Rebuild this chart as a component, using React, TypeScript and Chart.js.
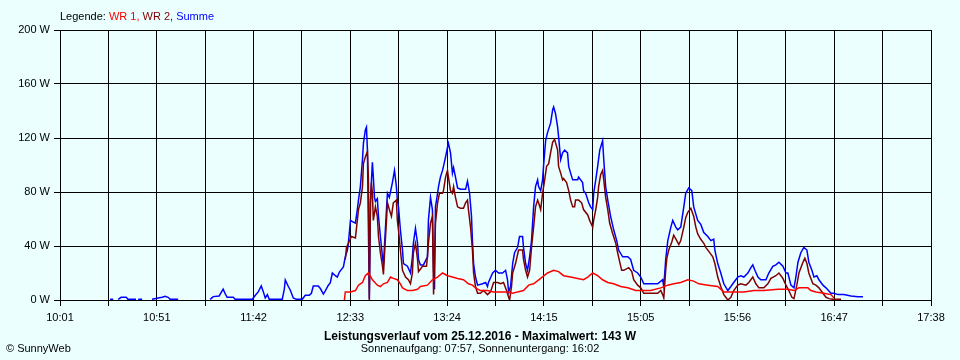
import { useEffect, useRef } from 'react';
import { Chart, registerables } from 'chart.js';

Chart.register(...registerables);

// ---- data ----
const X_LABELS = ['10:01', '10:51', '11:42', '12:33', '13:24', '14:15', '15:05', '15:56', '16:47', '17:38'];
const Y_MAX = 200;
const Y_STEP = 40;
const SERIES_NAMES = ['WR 1', 'WR 2', 'Summe'];
const SERIES_COLORS = ['#FF0000', '#800000', '#0000FF'];
const LEGEND_PREFIX = 'Legende: ';
const TITLE = 'Leistungsverlauf vom 25.12.2016 - Maximalwert: 143 W';
const SUBTITLE = 'Sonnenaufgang: 07:57, Sonnenuntergang: 16:02';
const COPYRIGHT = '© SunnyWeb';

// times in minutes since midnight
const summeTimes = [
  627.3, 628.9, 630, 631.5, 633.1, 635.7, 636.7, 640.9, 641.5, 642.0, 644.1, 646, 649.3, 652.5, 654.6, 656.2, 657.7, 658.8, 663.0, 670,
  679.8, 681.4, 684.5, 686.6, 687.7, 688.7, 691.9, 692.9, 701.9, 703.5, 705.0, 706.6, 707.7, 708.7, 709.8, 710.8, 717.6, 718.7, 719.2, 720.8,
  721.8, 723.4, 725.0, 728.1, 729.7, 731.8, 732.9, 733.9, 736.5, 737.6, 739.2, 740.2, 741.8, 742.8, 743.9, 745.5, 746.5, 747.6, 749.7, 750.7,
  751.8, 752.3, 753.4, 754.4, 756.0, 757.0, 757.6, 758.6, 759.7, 760.2, 761.2, 761.8, 762.3, 762.8, 763.3, 763.9, 764.9, 765.4, 766.0, 766.5,
  767.5, 768.1, 769.1, 770.2, 770.7, 771.2, 772.3, 772.8, 773.8, 775.4, 776.5, 777.5, 778.0, 778.6, 779.6, 780.7, 781.2, 783.3, 784.9, 785.9,
  786.4, 787.5, 788.6, 789.1, 790.1, 791.7, 793.8, 794.3, 795.4, 796.4, 797.0, 797.5, 798.0, 799.1, 799.6, 800.6, 801.7, 802.2, 803.3, 804.3,
  804.8, 805.9, 806.9, 807.5, 808.5, 809.6, 811.1, 813.8, 814.8, 815.9, 816.9, 817.4, 818.0, 819.0, 820.1, 822.7, 824.3, 825.3, 825.8, 828.0,
  829.5, 831.1, 833.2, 834.8, 835.8, 836.4, 837.4, 838.5, 839.5, 841.1, 842.1, 843.7, 844.2, 845.3, 846.3, 847.4, 848.4, 849.5, 850.5, 851.6,
  852.1, 853.2, 854.2, 854.7, 855.8, 856.8, 858.4, 859.5, 860.0, 861.0, 862.1, 862.6, 863.7, 864.7, 865.8, 867.3, 867.9, 868.9, 870.0, 872.6,
  873.1, 875.2, 875.7, 876.8, 878.4, 879.4, 880.5, 881.0, 882.1, 883.1, 884.2, 885.7, 886.3, 887.3, 888.4, 889.9, 891.5, 893.1, 894.1, 896.2,
  898.9, 900.4, 902.0, 904.1, 905.7, 907.3, 910.9, 914.6, 917.2, 917.8, 918.8, 919.9, 921.5, 922.5, 924.1, 925.1, 926.7, 928.3, 929.3, 930.9,
  932.5, 933.5, 935.6, 937.2, 938.8, 940.9, 942.5, 944.0, 944.6, 946.1, 947.7, 949.3, 951.4, 953.0, 954.5, 956.6, 958.2, 959.8, 961.9, 963.5,
  964.5, 965.6, 967.2, 968.7, 971.4, 972.9, 975.0, 976.6, 978.2, 980.3, 981.9, 982.9, 984.5, 986.1, 987.1, 988.2, 989.7, 991.3, 992.9, 993.9,
  995.5, 996.6, 998.1, 999.2, 1001.3, 1002.9, 1005.5, 1007.1, 1009.2, 1012.3, 1016.0, 1019.7, 1022.3,
];
const summeWatts = [
  0.5, 0.5, null, 0.5, 2, 2, 0.5, 0.5, null, 0.5, 0.5, null, 0.5, 1.5, 2, 2.7, 2, 0.5, 0.5, null,
  0.5, 2.5, 3, 8, 4.5, 2, 2, 0.5, 0.5, 3.5, 6, 10.4, 6, 1.5, 4, 0.5, 0.5, 8, 14.8, 10,
  7.4, 1.5, 0.5, 0.5, 3.5, 3.5, 5, 10.4, 10.4, 8.5, 4.4, 6.7, 11, 12.6, 20, 18, 17, 20.7, 24.5, 32,
  37, 42, 59, 58, 57, 67, 74, 84, 104, 116, 126, 128, 111, 54, 1, 74, 102, 91, 76, 73,
  75, 62, 47, 32, 26, 39, 67, 79, 76, 87, 96, 84, 74, 69, 52, 37, 27, 25, 20, 32,
  42, 53, 42, 30, 26, 26, 32, 59, 76, 67, 22, 8, 69, 79, 84, 91, 96, 99, 106, 113,
  116, 109, 94, 98, 91, 83, 82, 82, 88, 79, 62, 44, 27, 17, 11, 12, 13, 10, 13, 20,
  22, 20, 20, 22, 15, 6, 10, 27, 35, 39, 47, 47, 39, 27, 22, 32, 44, 69, 84, 89,
  84, 81, 89, 99, 118, 124, 131, 141, 143, 138, 128, 121, 104, 109, 111, 109, 99, 94, 89, 89,
  91, 87, 81, 79, 72, 69, 67, 79, 89, 99, 111, 118, 104, 84, 74, 62, 52, 44, 37, 32,
  32, 30, 22, 20, 17, 12, 12, 12, 15, 10, 30, 44, 54, 59, 54, 52, 54, 69, 79, 83,
  81, 69, 59, 56, 50, 47, 44, 45, 37, 27, 20, 12, 7, 10, 13, 17, 18, 17, 20, 24,
  26, 22, 17, 15, 15, 20, 25, 26, 28, 25, 20, 20, 11, 9, 17, 28, 35, 39, 37, 28,
  22, 17, 18, 15, 11, 9, 5, 5, 4, 4, 3, 2.5, 2.5,
];

const wr2Times = [
  750.7, 751.3, 752.3, 753.9, 756.0, 757.0, 757.6, 758.6, 759.7, 760.2, 761.2, 762.3, 762.8, 763.3, 763.9, 764.4, 764.9, 765.4, 766.5, 767.5,
  768.1, 769.1, 770.2, 770.7, 771.2, 772.3, 772.8, 773.8, 774.9, 775.9, 777.5, 778.0, 778.6, 779.6, 780.7, 782.3, 783.8, 784.9, 785.9, 786.4,
  787.5, 788.6, 789.1, 791.2, 793.3, 793.8, 794.3, 795.4, 796.4, 797.0, 798.0, 799.1, 800.1, 801.7, 802.2, 803.3, 804.3, 804.8, 805.9, 806.9,
  807.5, 808.5, 809.6, 811.1, 812.7, 813.8, 814.8, 815.3, 816.4, 817.4, 818.0, 819.0, 820.1, 821.6, 823.2, 825.3, 826.9, 828.5, 830.6, 832.2,
  833.7, 835.3, 836.4, 836.9, 837.9, 838.5, 840.0, 841.6, 843.7, 844.2, 845.3, 846.3, 847.4, 848.4, 849.5, 850.5, 851.6, 852.1, 853.2, 854.2,
  855.3, 856.3, 857.4, 858.4, 859.5, 860.5, 862.1, 862.6, 863.7, 864.7, 865.2, 866.8, 867.9, 868.9, 870.0, 871.0, 871.5, 873.1, 874.7, 875.7,
  877.9, 878.9, 880.5, 881.0, 882.1, 883.1, 883.6, 884.7, 885.7, 886.3, 887.3, 888.4, 889.4, 891.0, 892.6, 893.6, 894.7, 895.7, 896.8, 899.4,
  901.0, 902.0, 904.1, 905.7, 907.3, 910.9, 914.6, 916.2, 917.2, 917.8, 918.8, 919.4, 920.4, 922.0, 923.0, 924.6, 925.7, 926.7, 928.3, 929.3,
  930.4, 932.0, 933.5, 934.6, 935.6, 937.2, 938.8, 939.8, 941.4, 943.5, 944.6, 946.1, 947.7, 949.3, 951.4, 953.0, 954.5, 956.6, 958.2, 960.9,
  962.4, 964.5, 966.1, 967.7, 970.3, 972.4, 974.0, 976.6, 978.2, 980.3, 981.9, 983.4, 985.0, 986.1, 987.6, 988.7, 990.8, 991.8, 992.9, 993.9,
  996.0, 997.6, 999.2, 1001.3, 1002.9, 1004.5, 1006.6, 1010.8,
];
const wr2Watts = [
  30, 39, 42, 47, 46, 59, 67, 72, 84, 101, 106, 110, 91, 0, 72, 87, 79, 59, 69, 62,
  47, 35, 25, 19, 32, 59, 72, 67, 62, 72, 74, 59, 52, 37, 22, 17, 15, 12, 20, 35,
  42, 30, 21, 25, 25, 32, 42, 57, 62, 4, 57, 72, 79, 79, 81, 91, 96, 91, 81, 79,
  84, 76, 69, 68, 68, 72, 74, 67, 54, 37, 20, 10, 5, 5, 7, 4, 6, 13, 13, 12,
  13, 7, 2, 0, 10, 20, 27, 37, 37, 30, 22, 17, 22, 39, 54, 69, 74, 72, 67, 79,
  89, 99, 101, 109, 117, 119, 111, 99, 94, 89, 90, 87, 81, 74, 69, 69, 74, 74, 72, 67,
  63, 59, 54, 59, 67, 76, 84, 93, 96, 89, 76, 67, 57, 49, 42, 35, 28, 22, 22, 24,
  21, 15, 11, 9, 5, 5, 5, 7, 4, 1.5, 22, 31, 37, 43, 48, 44, 41, 44, 54, 61,
  65, 68, 62, 54, 49, 45, 42, 39, 36, 32, 27, 17, 10, 4, 0, 2, 7, 11, 12, 11,
  13, 17, 12, 9, 9, 12, 16, 18, 20, 16, 11, 7, 2, 1, 11, 20, 28, 31, 27, 20,
  12, 11, 9, 5, 2, 1, 0.5, 0.5,
];

const wr1Times = [
  750.2, 750.7, 753.4, 756.0, 757.6, 759.7, 761.2, 762.8, 764.9, 767.5, 769.1, 770.7, 772.8, 774.4, 775.9, 778.0, 779.6, 780.7, 783.3, 785.9,
  788.6, 790.1, 793.8, 796.4, 799.1, 801.7, 804.3, 806.9, 809.6, 812.7, 815.3, 817.4, 819.0, 821.6, 825.3, 828.5, 835.8, 838.5, 841.1, 844.2,
  846.9, 849.5, 853.2, 856.8, 860.0, 862.6, 865.2, 868.9, 872.6, 875.7, 877.9, 880.5, 883.1, 885.7, 888.4, 891.5, 895.2, 898.9, 903.1, 905.7,
  910.9, 916.2, 919.9, 923.0, 926.7, 930.4, 933.5, 936.2, 940.9, 946.1, 949.3, 954.5, 959.8, 965.1, 970.3, 977.7, 982.9, 986.1, 988.7, 993.4,
  995.0, 997.6, 1001.8, 1005.5, 1007.1,
];
const wr1Watts = [
  0, 6, 6, 7, 11, 13, 18, 20, 15, 11, 10, 12, 13, 17, 16, 15, 12, 9, 7, 7,
  8, 10, 11, 15, 17, 20, 18, 17, 16, 15, 12, 11, 9, 7, 7, 6, 6, 5, 6, 7,
  11, 12, 16, 20, 22, 21, 18, 17, 16, 15, 17, 20, 18, 15, 13, 12, 10, 9, 7, 7,
  7, 9, 11, 12, 13, 15, 14, 12, 11, 10, 6, 6, 6, 7, 7, 8, 8, 7, 9, 9,
  7, 6, 5, 4, 1.5,
];

const FONT = '"Liberation Sans", Arial, sans-serif';

function hm(s: string): number {
  const [h, m] = s.split(':').map(Number);
  return h * 60 + m;
}

export default function App() {
  const ref = useRef<HTMLCanvasElement>(null);

  useEffect(() => {
    if (!ref.current) return;
    const pts = (t: number[], v: (number | null)[]) => t.map((x, i) => ({ x, y: v[i] }));
    const start = hm(X_LABELS[0]);
    const end = hm(X_LABELS[X_LABELS.length - 1]);
    const nTicks = (X_LABELS.length - 1) * 2;
    const step = (end - start) / nTicks;

    const textPlugin = {
      id: 'sunnyTexts',
      afterDraw(chart: any) {
        const ctx = chart.ctx;
        ctx.save();
        ctx.textBaseline = 'middle';
        ctx.textAlign = 'left';
        ctx.font = `11px ${FONT}`;
        let x = chart.chartArea.left;
        const parts: [string, string][] = [
          [LEGEND_PREFIX, '#000000'],
          [SERIES_NAMES[0] + ', ', SERIES_COLORS[0]],
          [SERIES_NAMES[1] + ', ', SERIES_COLORS[1]],
          [SERIES_NAMES[2], SERIES_COLORS[2]],
        ];
        for (const [txt, col] of parts) {
          ctx.fillStyle = col;
          ctx.fillText(txt, x, 17);
          x += ctx.measureText(txt).width;
        }
        ctx.fillStyle = '#000000';
        ctx.textAlign = 'center';
        ctx.font = `bold 12px ${FONT}`;
        ctx.fillText(TITLE, 480, 337);
        ctx.font = `11px ${FONT}`;
        ctx.fillText(SUBTITLE, 480, 349);
        ctx.textAlign = 'left';
        ctx.fillText(COPYRIGHT, 6, 349);
        ctx.restore();
      },
    };

    const chart = new Chart(ref.current, {
      type: 'line',
      data: {
        datasets: [
          { label: SERIES_NAMES[0], data: pts(wr1Times, wr1Watts), borderColor: SERIES_COLORS[0], backgroundColor: SERIES_COLORS[0] },
          { label: SERIES_NAMES[1], data: pts(wr2Times, wr2Watts), borderColor: SERIES_COLORS[1], backgroundColor: SERIES_COLORS[1] },
          { label: SERIES_NAMES[2], data: pts(summeTimes, summeWatts), borderColor: SERIES_COLORS[2], backgroundColor: SERIES_COLORS[2] },
        ],
      },
      options: {
        animation: false,
        responsive: false,
        events: [],
        layout: { padding: { top: 30, right: 29, left: 0, bottom: 0 } },
        elements: {
          line: { borderWidth: 1.5, tension: 0 },
          point: { radius: 0 },
        },
        plugins: { legend: { display: false }, tooltip: { enabled: false }, title: { display: false } },
        scales: {
          x: {
            type: 'linear',
            min: start,
            max: end,
            afterBuildTicks: (ax: any) => {
              ax.ticks = Array.from({ length: nTicks + 1 }, (_, i) => ({ value: start + i * step }));
            },
            afterFit: (s: any) => {
              s.height = 60;
            },
            ticks: {
              autoSkip: false,
              maxRotation: 0,
              color: '#000000',
              font: { family: FONT, size: 11 },
              padding: 5,
              callback: (_v: any, i: number) => (i % 2 === 0 ? X_LABELS[i / 2] : ''),
            },
            grid: { color: '#000000', lineWidth: 1, tickLength: 6 },
            border: { color: '#000000' },
          },
          y: {
            type: 'linear',
            min: 0,
            max: Y_MAX,
            afterFit: (s: any) => {
              s.width = 60;
            },
            ticks: {
              stepSize: Y_STEP,
              color: '#000000',
              font: { family: FONT, size: 11 },
              padding: 4,
              callback: (v: any) => `${v} W`,
            },
            grid: { color: '#000000', lineWidth: 1, tickLength: 6 },
            border: { color: '#000000' },
          },
        },
      },
      plugins: [textPlugin],
    });
    return () => chart.destroy();
  }, []);

  return (
    <div style={{ position: 'fixed', left: 0, top: 0, width: 960, height: 360, background: '#EBFFFF' }}>
      <canvas ref={ref} width={960} height={360} style={{ display: 'block' }} />
    </div>
  );
}
